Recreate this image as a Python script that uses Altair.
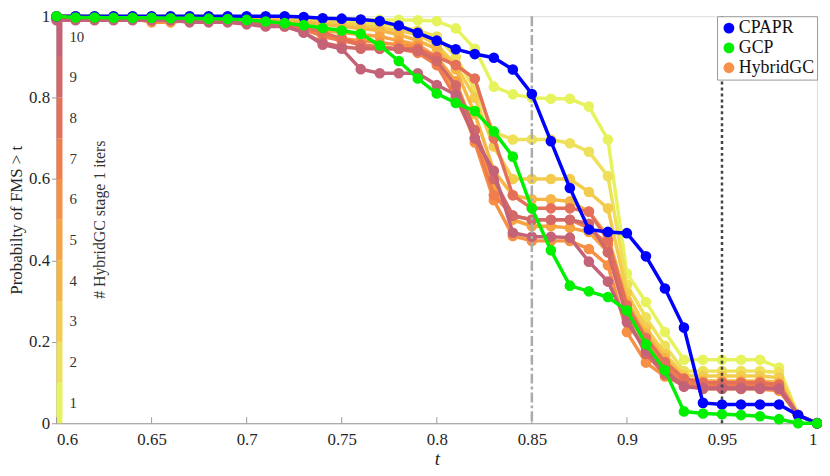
import altair as alt
import pandas as pd

FONT = "Liberation Serif, DejaVu Serif, serif"
W, H = 768, 411

t = [0.60, 0.61, 0.62, 0.63, 0.64, 0.65, 0.66, 0.67, 0.68, 0.69, 0.70,
     0.71, 0.72, 0.73, 0.74, 0.75, 0.76, 0.77, 0.78, 0.79, 0.80,
     0.81, 0.82, 0.83, 0.84, 0.85, 0.86, 0.87, 0.88, 0.89, 0.90,
     0.91, 0.92, 0.93, 0.94, 0.95, 0.96, 0.97, 0.98, 0.99, 1.00]

cpapr = [1.0, 1.0, 1.0, 1.0, 1.0, 1.0, 1.0, 1.0, 1.0, 1.0, 1.0,
         1.0, 1.0, 0.998, 0.995, 0.994, 0.992, 0.988, 0.977, 0.959, 0.94,
         0.919, 0.907, 0.898, 0.869, 0.809, 0.693, 0.578, 0.476, 0.47, 0.467,
         0.41, 0.331, 0.235, 0.05, 0.046, 0.046, 0.046, 0.046, 0.02, 0.0]

gcp = [1.0, 0.997, 0.997, 0.996, 0.996, 0.996, 0.995, 0.995, 0.994, 0.993, 0.991,
       0.987, 0.983, 0.978, 0.971, 0.965, 0.957, 0.928, 0.89, 0.847, 0.81,
       0.787, 0.767, 0.717, 0.655, 0.528, 0.425, 0.338, 0.324, 0.31, 0.277,
       0.194, 0.13, 0.029, 0.024, 0.022, 0.02, 0.017, 0.01, 0.0, 0.0]

h1 = [1.0, 1.0, 1.0, 1.0, 1.0, 1.0, 1.0, 1.0, 1.0, 0.998, 0.997,
      0.996, 0.996, 0.995, 0.994, 0.993, 0.992, 0.991, 0.991, 0.99, 0.988,
      0.97, 0.92, 0.827, 0.808, 0.80, 0.797, 0.797, 0.778, 0.697, 0.368,
      0.298, 0.224, 0.156, 0.156, 0.156, 0.156, 0.156, 0.137, 0.02, 0.0]

h2 = [1.0, 1.0, 1.0, 1.0, 0.998, 0.998, 0.997, 0.997, 0.996, 0.996, 0.995,
      0.994, 0.993, 0.99, 0.988, 0.986, 0.984, 0.98, 0.975, 0.965, 0.95,
      0.90, 0.82, 0.715, 0.697, 0.697, 0.697, 0.688, 0.667, 0.607, 0.34,
      0.26, 0.19, 0.128, 0.128, 0.128, 0.128, 0.128, 0.125, 0.02, 0.0]

h3 = [1.0, 1.0, 0.998, 0.998, 0.997, 0.996, 0.996, 0.995, 0.995, 0.994, 0.993,
      0.992, 0.99, 0.988, 0.985, 0.982, 0.978, 0.972, 0.965, 0.955, 0.93,
      0.88, 0.80, 0.68, 0.60, 0.60, 0.60, 0.60, 0.568, 0.528, 0.32,
      0.235, 0.17, 0.118, 0.116, 0.116, 0.116, 0.116, 0.112, 0.02, 0.0]

h4 = [1.0, 1.0, 0.998, 0.998, 0.997, 0.99, 0.994, 0.995, 0.995, 0.993, 0.992,
      0.99, 0.988, 0.985, 0.98, 0.975, 0.97, 0.965, 0.955, 0.94, 0.92,
      0.87, 0.76, 0.62, 0.56, 0.55, 0.55, 0.545, 0.52, 0.46, 0.30,
      0.22, 0.16, 0.11, 0.104, 0.104, 0.104, 0.104, 0.10, 0.02, 0.0]

h5 = [1.0, 0.997, 0.997, 0.996, 0.996, 0.99, 0.992, 0.993, 0.993, 0.992, 0.99,
      0.988, 0.985, 0.97, 0.965, 0.96, 0.955, 0.95, 0.94, 0.93, 0.90,
      0.84, 0.72, 0.58, 0.50, 0.484, 0.484, 0.48, 0.47, 0.42, 0.27,
      0.20, 0.14, 0.10, 0.092, 0.092, 0.092, 0.092, 0.09, 0.02, 0.0]

h6 = [0.996, 0.996, 0.995, 0.995, 0.995, 0.985, 0.985, 0.99, 0.99, 0.99, 0.985,
      0.98, 0.975, 0.965, 0.955, 0.945, 0.94, 0.935, 0.93, 0.925, 0.89,
      0.82, 0.69, 0.548, 0.46, 0.448, 0.448, 0.448, 0.428, 0.388, 0.224,
      0.149, 0.115, 0.095, 0.084, 0.084, 0.084, 0.084, 0.08, 0.02, 0.0]

h7 = [0.997, 0.997, 0.996, 0.996, 0.995, 0.995, 0.994, 0.994, 0.993, 0.99, 0.99,
      0.985, 0.98, 0.97, 0.95, 0.94, 0.93, 0.925, 0.92, 0.91, 0.88,
      0.80, 0.70, 0.56, 0.51, 0.50, 0.50, 0.50, 0.48, 0.44, 0.28,
      0.19, 0.14, 0.10, 0.096, 0.096, 0.096, 0.096, 0.092, 0.02, 0.0]

h8 = [0.995, 0.995, 0.995, 0.994, 0.994, 0.993, 0.992, 0.992, 0.99, 0.99, 0.988,
      0.985, 0.98, 0.975, 0.96, 0.945, 0.93, 0.92, 0.92, 0.92, 0.90,
      0.88, 0.847, 0.70, 0.56, 0.528, 0.528, 0.528, 0.52, 0.45, 0.29,
      0.21, 0.15, 0.11, 0.10, 0.10, 0.10, 0.10, 0.095, 0.02, 0.0]

h9 = [0.995, 0.995, 0.994, 0.994, 0.993, 0.993, 0.992, 0.99, 0.99, 0.988, 0.985,
      0.982, 0.978, 0.96, 0.935, 0.925, 0.92, 0.92, 0.92, 0.915, 0.89,
      0.83, 0.72, 0.60, 0.51, 0.50, 0.50, 0.50, 0.49, 0.42, 0.26,
      0.17, 0.12, 0.09, 0.088, 0.088, 0.088, 0.088, 0.085, 0.02, 0.0]

h10 = [0.99, 0.99, 0.99, 0.99, 0.99, 0.99, 0.99, 0.985, 0.985, 0.985, 0.98,
       0.975, 0.975, 0.96, 0.93, 0.92, 0.87, 0.86, 0.86, 0.86, 0.831,
       0.807, 0.70, 0.62, 0.468, 0.458, 0.458, 0.456, 0.397, 0.348, 0.248,
       0.18, 0.13, 0.09, 0.085, 0.085, 0.085, 0.085, 0.085, 0.02, 0.0]

hybrid = [h1, h2, h3, h4, h5, h6, h7, h8, h9, h10]
hyb_names = [f"H{i}" for i in range(1, 11)]
hyb_colors = ["#e7f35c", "#eee059", "#f3cb4d", "#f6b645", "#f8a342",
              "#f79044", "#f07e4c", "#e4705a", "#d36869", "#c46278"]
levels = list(range(1, 11))

xticks = [0.6, 0.65, 0.7, 0.75, 0.8, 0.85, 0.9, 0.95, 1.0]
yticks = [0, 0.2, 0.4, 0.6, 0.8, 1]

domain = ["CPAPR", "GCP", "HybridGC"] + hyb_names
crange = ["#0000ff", "#00f000", "#f79048"] + hyb_colors

rows = []
for name, vals in [("CPAPR", cpapr), ("GCP", gcp)] + list(zip(hyb_names, hybrid)):
    assert len(vals) == len(t), name
    for tt, v in zip(t, vals):
        rows.append({"t": tt, "p": v, "series": name})
df = pd.DataFrame(rows)

cb = pd.DataFrame({
    "lvl": levels,
    "series": hyb_names,
    "y0": [(l - 1) / 10 for l in levels],
    "y1": [l / 10 for l in levels],
    "ym": [(l - 0.5) / 10 for l in levels],
})

xscale = alt.Scale(domain=[0.6, 1.0], nice=False, zero=False)
yscale = alt.Scale(domain=[0, 1], nice=False)
xaxis = alt.Axis(values=xticks, format="~g", ticks=False, grid=False,
                 labelFont=FONT, labelFontSize=17, labelColor="#262626",
                 labelPadding=8, domainColor="#9a9a9a",
                 title="t", titleFont=FONT, titleFontSize=19,
                 titleFontStyle="italic", titleFontWeight="normal",
                 titleColor="#262626", titlePadding=3)
yaxis = alt.Axis(values=yticks, format="~g", grid=False, tickColor="#9a9a9a",
                 tickSize=5, labelFont=FONT, labelFontSize=17,
                 labelColor="#262626", labelPadding=2, domainColor="#9a9a9a",
                 title="Probabilty of FMS > t", titleFont=FONT,
                 titleFontSize=17, titleFontWeight="normal",
                 titleColor="#262626", titlePadding=3)
cscale = alt.Scale(domain=domain, range=crange)
legend = alt.Legend(values=["CPAPR", "GCP", "HybridGC"], orient="top-right",
                    offset=0, title=None, strokeColor="#9a9a9a",
                    fillColor="white", padding=3, symbolType="circle",
                    symbolSize=120, symbolStrokeWidth=0, labelFont=FONT,
                    labelFontSize=18, labelColor="#111111", rowPadding=2,
                    labelOffset=1, symbolOpacity=1)

X = alt.X("t:Q", scale=xscale, axis=xaxis)
Y = alt.Y("p:Q", scale=yscale, axis=yaxis)
C = alt.Color("series:N", scale=cscale, legend=legend)

layers = []

# colorbar (first colour layer: gives filled legend symbols)
layers.append(
    alt.Chart(cb).mark_rect().encode(
        x=alt.value(0), x2=alt.value(6),
        y=alt.Y("y0:Q", scale=yscale, axis=yaxis), y2="y1:Q",
        color=C)
)
layers.append(
    alt.Chart(cb).mark_text(align="left", baseline="middle", font=FONT,
                            fontSize=15, color="#333333").encode(
        x=alt.value(13), y=alt.Y("ym:Q", scale=yscale, axis=yaxis),
        text="lvl:N")
)
layers.append(
    alt.Chart(pd.DataFrame({"label": ["# HybridGC stage 1 iters"]})).mark_text(
        angle=270, align="center", baseline="middle",
        font=FONT, fontSize=16, color="#333333").encode(
        x=alt.value(44), y=alt.value(H / 2), text="label:N")
)
# inward x ticks
layers.append(
    alt.Chart(pd.DataFrame({"t": xticks})).mark_rule(color="#9a9a9a").encode(
        x=X, y=alt.value(H), y2=alt.value(H - 6))
)


def series_layers(name):
    base = alt.Chart(df).transform_filter(alt.datum.series == name)
    ln = base.mark_line(strokeWidth=3.5).encode(x=X, y=Y, color=C)
    pt = base.mark_circle(size=115, opacity=1).encode(x=X, y=Y, color=C)
    return [ln, pt]


for n in hyb_names:
    layers += series_layers(n)

layers.append(
    alt.Chart(pd.DataFrame({"t": [0.85]})).mark_rule(
        color="#aaaaaa", strokeWidth=2.5, strokeDash=[10, 3, 3, 3]).encode(x=X)
)
layers.append(
    alt.Chart(pd.DataFrame({"t": [0.95]})).mark_rule(
        color="#444444", strokeWidth=2.5, strokeDash=[3, 3]).encode(x=X)
)

layers += series_layers("CPAPR")
layers += series_layers("GCP")

chart = alt.layer(*layers).properties(
    width=W, height=H,
    autosize=alt.AutoSizeParams(type="none"),
    padding={"left": 49, "top": 6, "right": 5, "bottom": 52},
    background="white",
).configure_view(stroke=None).configure_legend(
    labelFont=FONT, labelFontSize=18, labelColor="#111111"
).configure(font=FONT)

chart.save("out.html", embed_options={"renderer": "svg", "actions": False})
